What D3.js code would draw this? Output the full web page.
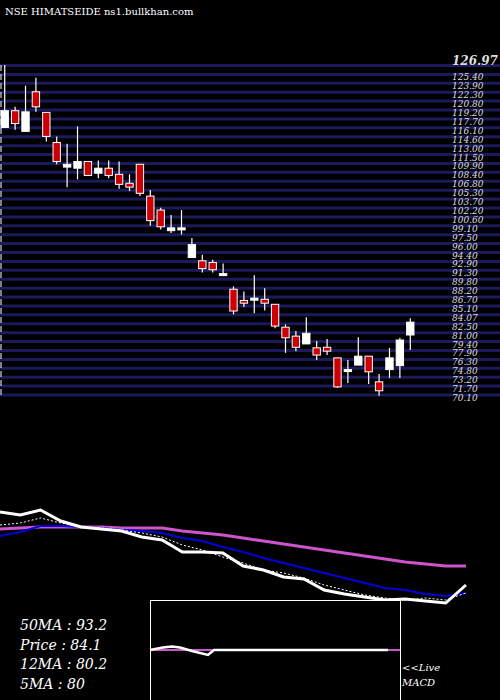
<!DOCTYPE html>
<html><head><meta charset="utf-8">
<script src="https://cdn.jsdelivr.net/npm/d3@7/dist/d3.min.js"></script>
<style>body{margin:0;background:#000}svg{display:block}</style>
</head><body>
<svg id="chart" width="500" height="700"></svg>
<script>
// candle data
var opens  = [115.8,118.8,115.1,122.2,118.5,113.1,108.7,108.5,109.7,107.6,108.5,107.4,105.8,109.2,103.5,101.0,97.3,97.8,92.5,91.9,91.6,89.3,86.8,84.8,85.2,85.0,84.1,80.0,78.4,77.0,76.3,76.4,74.5,72.4,73.2,74.8,70.2,72.4,73.1,78.6];
var closes = [118.8,116.5,118.6,119.5,114.2,109.7,109.2,109.7,107.2,108.5,107.2,105.6,105.1,104.0,99.1,98.0,97.8,97.8,94.8,90.5,90.3,89.6,82.9,84.3,85.2,84.3,80.2,78.1,76.4,78.9,75.0,75.7,69.3,72.4,74.8,72.0,68.6,74.5,77.7,80.9];
var highs  = [127.0,119.5,123.3,124.7,118.5,114.2,112.9,116.0,109.7,109.9,109.9,109.7,107.4,109.2,104.6,101.4,100.1,101.0,96.0,93.0,92.1,91.4,87.3,86.4,89.3,87.0,84.1,80.5,79.3,81.8,77.5,77.9,74.5,74.1,78.2,74.8,71.6,76.3,78.1,81.6];
var lows   = [115.8,115.4,115.1,118.6,113.3,109.2,105.1,106.5,107.1,106.7,106.7,104.8,104.4,103.5,98.2,97.5,96.9,96.6,92.5,89.8,89.8,89.3,82.3,83.6,82.5,83.0,79.8,75.4,75.7,77.0,74.1,75.0,69.1,70.0,73.2,69.8,67.7,70.9,70.9,75.9];

var tickLabels = ["126.97","125.40","123.90","122.30","120.80","119.20","117.70","116.10","114.60","113.00","111.50","109.90","108.40","106.80","105.30","103.70","102.20","100.60","99.10","97.50","96.00","94.40","92.90","91.30","89.80","88.20","86.70","85.10","84.07","82.50","81.00","79.40","77.90","76.30","74.80","73.20","71.70","70.10"];

// moving average panel
var pricePts = [121.5,120,122.5,117,114,113,112,109,107.5,101.5,101.5,101,94.5,92.5,89,88,82.5,80.5,79,77.5,78,77,76,85];
var ma5  = [115,116,118.5,116,114,113.5,112.5,111,109,105,102.5,99,96,92.5,91,88.5,85,82.5,80,78.5,77.5,78.5,77.5,81];
var ma12 = [109.5,111.5,114.5,114.5,114,113.5,112.5,112,111,108.5,107,104,101.5,98.5,96,93.5,91,88.5,86,83.5,82.5,80.5,79.5,81];
var ma50 = [113,113.5,114,114,114,114,113.5,113.5,113.5,112,111,110,108.5,107,105.5,104,102.5,101,99.5,98,96.5,95.5,94.5,94.5];

// MACD mini panel
var macdX = [0,13,22,30,42,58,64,238];
var macdY = [0,2.5,3.5,2.5,-1,-5,0,0];

var infoLines = ["50MA : 93.2","Price   : 84.1","12MA : 80.2","5MA : 80"];

var svg = d3.select("#chart");
svg.append("rect").attr("width",500).attr("height",700).attr("fill","#000");

svg.append("text").attr("x",5).attr("y",15).attr("fill","#fff")
  .attr("font-family","DejaVu Serif").attr("font-size",10).text("NSE HIMATSEIDE ns1.bullkhan.com");

// grid lines + labels
var gy = d3.scaleLinear().domain([0, tickLabels.length-1]).range([65.5, 395]);
var g = svg.append("g");
tickLabels.forEach(function(t,i){
  g.append("line").attr("x1",0).attr("x2",500).attr("y1",gy(i)).attr("y2",gy(i))
    .attr("stroke","#1a1a5c").attr("stroke-width",3);
  g.append("text").attr("x",452).attr("y",gy(i)+ (i==0 ? -1 : 6)).attr("fill","#ddd")
    .attr("font-family","DejaVu Serif").attr("font-style","italic")
    .attr("font-size", i==0 ? 12 : 9).attr("font-weight", i==0 ? "bold" : "normal").text(t);
});
svg.append("line").attr("x1",1).attr("x2",1).attr("y1",65).attr("y2",396)
  .attr("stroke","#fff").attr("stroke-dasharray","6,3");

var y = d3.scaleLinear().domain([68.2,127]).range([393,65]);
var x = d3.scaleBand().domain(d3.range(opens.length)).range([-1,416]).padding(0.1);

var candles = svg.append("g").selectAll("g").data(opens).join("g");
candles.append("line")
  .attr("x1",(d,i)=>x(i)+x.bandwidth()/2).attr("x2",(d,i)=>x(i)+x.bandwidth()/2)
  .attr("y1",(d,i)=>y(highs[i])).attr("y2",(d,i)=>y(lows[i]))
  .attr("stroke","#fff").attr("stroke-width",1.2);
candles.append("rect")
  .attr("x",(d,i)=>x(i)+1).attr("width",x.bandwidth()-2)
  .attr("y",(d,i)=>y(Math.max(d,closes[i])))
  .attr("height",(d,i)=>Math.max(2,Math.abs(y(d)-y(closes[i]))))
  .attr("fill",(d,i)=>closes[i]<d ? "#cc0000" : "#fff")
  .attr("stroke","#fff").attr("stroke-width",1);

// MA panel
var mx = d3.scaleLinear().domain([0,pricePts.length-1]).range([0,466]);
var my = d3.scaleLinear().domain([125,72.5]).range([505,610]);
function ln(arr){ return d3.line().x((d,i)=>mx(i)).y(d=>my(d))(arr); }
svg.append("path").attr("d",ln(ma50)).attr("fill","none").attr("stroke","#cc55cc").attr("stroke-width",3);
svg.append("path").attr("d",ln(ma12)).attr("fill","none").attr("stroke","#0000dd").attr("stroke-width",2);
svg.append("path").attr("d",ln(ma5)).attr("fill","none").attr("stroke","#fff").attr("stroke-width",1).attr("stroke-dasharray","2,2");
svg.append("path").attr("d",ln(pricePts)).attr("fill","none").attr("stroke","#fff").attr("stroke-width",3);

// MACD box
var box = svg.append("g").attr("transform","translate(150,600)");
box.append("rect").attr("x",0.5).attr("y",0.5).attr("width",250).attr("height",101)
  .attr("fill","#000").attr("stroke","#fff").attr("stroke-width",1);
var qx = d3.scaleLinear().domain([0,250]).range([0,250]);
var qy = d3.scaleLinear().domain([-10,10]).range([60,40]);
box.append("line").attr("x1",0).attr("x2",250).attr("y1",qy(0)).attr("y2",qy(0)).attr("stroke","#cc55cc").attr("stroke-width",2);
box.append("path").attr("d",d3.line().x((d,i)=>qx(macdX[i])).y(d=>qy(d))(macdY))
  .attr("fill","none").attr("stroke","#fff").attr("stroke-width",2.5);

// info text
svg.append("g").selectAll("text").data(infoLines).join("text")
  .attr("x",20).attr("y",(d,i)=>630+i*19.5).attr("fill","#fff")
  .attr("font-family","DejaVu Serif").attr("font-style","italic").attr("font-size",14).text(d=>d);
svg.append("text").attr("x",402).attr("y",671).attr("fill","#fff").attr("font-family","DejaVu Serif")
  .attr("font-style","italic").attr("font-size",10).text("<<Live");
svg.append("text").attr("x",402).attr("y",686).attr("fill","#fff").attr("font-family","DejaVu Serif")
  .attr("font-style","italic").attr("font-size",10).text("MACD");
</script>
</body></html>
